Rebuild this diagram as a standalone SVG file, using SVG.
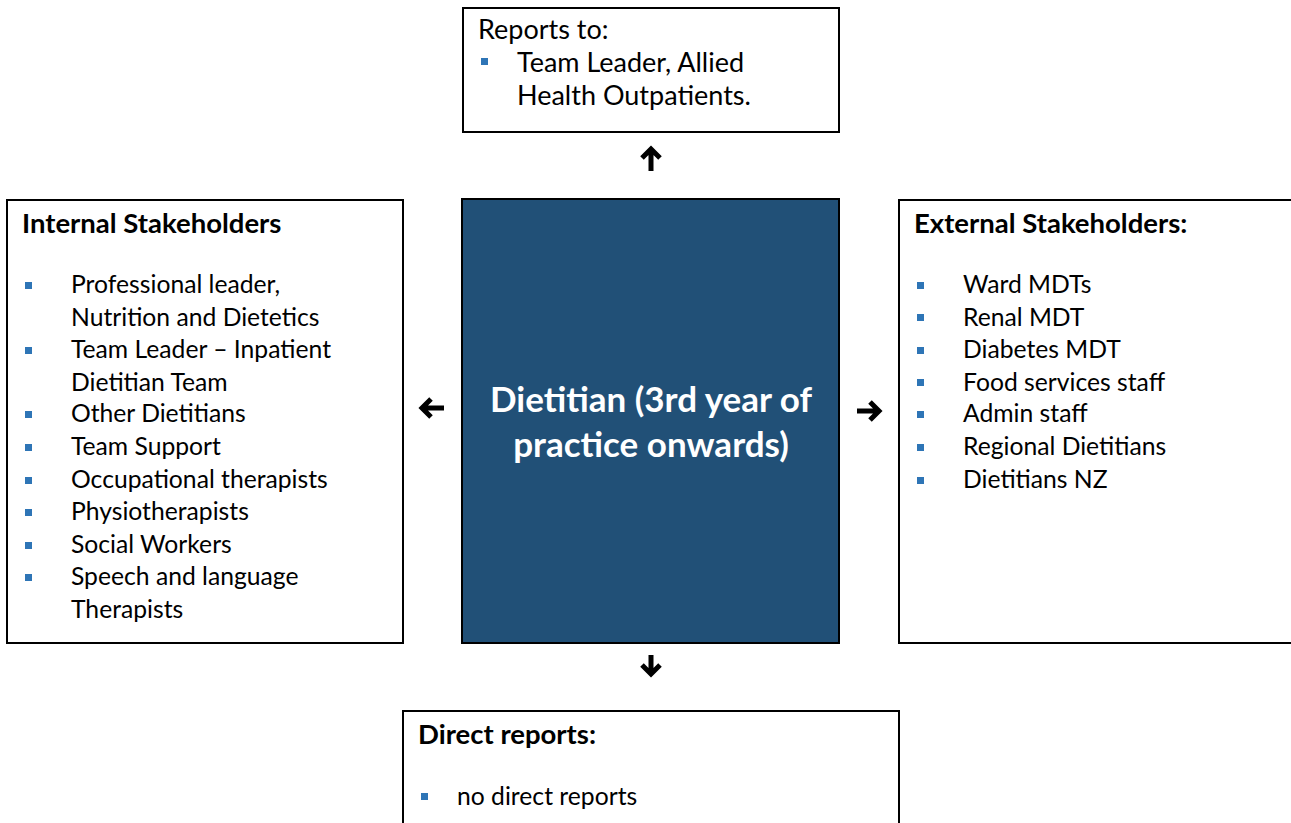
<svg xmlns="http://www.w3.org/2000/svg" width="1291" height="823" viewBox="0 0 1291 823">
<style>
.box{fill:#fff;stroke:#000;stroke-width:2}
.t{font-family:Lato,"Liberation Sans",sans-serif;font-size:24.7px;fill:#000}
.tt{font-family:Lato,"Liberation Sans",sans-serif;font-size:27px;fill:#000}
.h{font-family:Lato,"Liberation Sans",sans-serif;font-size:27.5px;font-weight:bold;fill:#000}
.c{font-family:Lato,"Liberation Sans",sans-serif;font-size:35px;font-weight:bold;fill:#fff;text-anchor:middle}
.b{fill:#2E75B6}
.arr{fill:none;stroke:#000;stroke-width:5;stroke-linecap:butt;stroke-linejoin:miter}
</style>
<rect width="1291" height="823" fill="#fff"/>
<g id="reports-to">
<rect class="box" x="463" y="8" width="376" height="124"/>
<text class="tt" x="478" y="39">Reports to:</text>
<rect class="b" x="481" y="58" width="7" height="7"/>
<text class="tt" x="517" y="72">Team Leader, Allied</text>
<text class="tt" x="517" y="105">Health Outpatients.</text>
</g>
<g id="internal">
<rect class="box" x="7" y="200" width="396" height="443"/>
<text class="h" x="22" y="233">Internal Stakeholders</text>
<rect class="b" x="25" y="282" width="7" height="7"/>
<text class="t" x="71" y="293">Professional leader,</text>
<text class="t" x="71" y="326">Nutrition and Dietetics</text>
<rect class="b" x="25" y="347" width="7" height="7"/>
<text class="t" x="71" y="358">Team Leader – Inpatient</text>
<text class="t" x="71" y="391">Dietitian Team</text>
<rect class="b" x="25" y="411" width="7" height="7"/>
<text class="t" x="71" y="422">Other Dietitians</text>
<rect class="b" x="25" y="444" width="7" height="7"/>
<text class="t" x="71" y="455">Team Support</text>
<rect class="b" x="25" y="477" width="7" height="7"/>
<text class="t" x="71" y="488">Occupational therapists</text>
<rect class="b" x="25" y="509" width="7" height="7"/>
<text class="t" x="71" y="520">Physiotherapists</text>
<rect class="b" x="25" y="542" width="7" height="7"/>
<text class="t" x="71" y="553">Social Workers</text>
<rect class="b" x="25" y="574" width="7" height="7"/>
<text class="t" x="71" y="585">Speech and language</text>
<text class="t" x="71" y="618">Therapists</text>
</g>
<g id="dietitian">
<rect x="462" y="199" width="377" height="444" fill="#215077" stroke="#000" stroke-width="2"/>
<text class="c" x="651" y="412">Dietitian (3rd year of</text>
<text class="c" x="651" y="457">practice onwards)</text>
</g>
<g id="external">
<rect class="box" x="899" y="200" width="400" height="443"/>
<text class="h" x="914" y="233">External Stakeholders:</text>
<rect class="b" x="917" y="282" width="7" height="7"/>
<text class="t" x="963" y="293">Ward MDTs</text>
<rect class="b" x="917" y="314" width="7" height="7"/>
<text class="t" x="963" y="326">Renal MDT</text>
<rect class="b" x="917" y="347" width="7" height="7"/>
<text class="t" x="963" y="358">Diabetes MDT</text>
<rect class="b" x="917" y="379" width="7" height="7"/>
<text class="t" x="963" y="391">Food services staff</text>
<rect class="b" x="917" y="411" width="7" height="7"/>
<text class="t" x="963" y="422">Admin staff</text>
<rect class="b" x="917" y="444" width="7" height="7"/>
<text class="t" x="963" y="455">Regional Dietitians</text>
<rect class="b" x="917" y="477" width="7" height="7"/>
<text class="t" x="963" y="488">Dietitians NZ</text>
</g>
<g id="direct-reports">
<rect class="box" x="403" y="711" width="496" height="130"/>
<text class="h" x="418" y="744">Direct reports:</text>
<rect class="b" x="421" y="793" width="7" height="7"/>
<text class="t" x="457" y="805">no direct reports</text>
</g>
<g id="connectors">
<path class="arr" d="M651 171V152M642 158L651 149L660 158"/>
<path class="arr" d="M651 655V673M642 665L651 674L660 665"/>
<path class="arr" d="M444 408H425M431 399L422 408L431 417"/>
<path class="arr" d="M857 411H876M870 402L879 411L870 420"/>
</g>
</svg>
